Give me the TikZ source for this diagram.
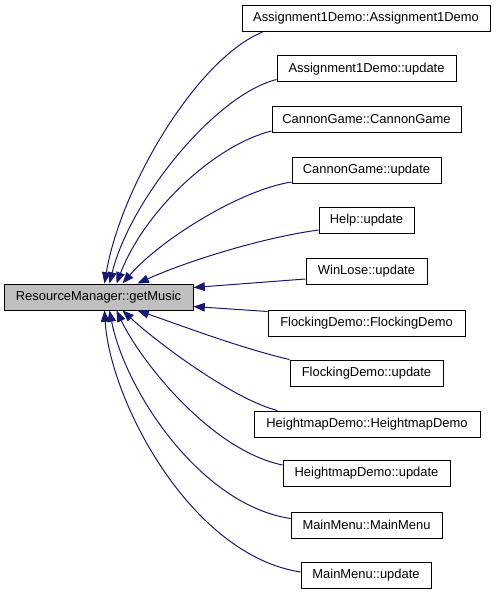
\documentclass[tikz,border=0pt]{standalone}
\usepackage{fontspec}
\setmainfont{Liberation Sans}
\usetikzlibrary{arrows.meta,calc}
\definecolor{edgeblue}{HTML}{191970}
\definecolor{maingray}{HTML}{BFBFBF}
\begin{document}
\begin{tikzpicture}[x=0.75pt,y=-0.75pt,
  fn/.style={draw=black,line width=0.75pt,fill=white,inner sep=0pt,
    minimum height=19.5pt,minimum width=#1*0.75pt,
    font=\fontsize{9.7}{11.6}\selectfont},
  mainbox/.style={fn=#1,fill=maingray},
  edge/.style={draw=edgeblue,line width=0.75pt,
    -{Triangle[length=8.5pt,width=6.5pt]}}]
\useasboundingbox (0,0) rectangle (497,595);
\node[mainbox=189] (m) at (98.5,297) {ResourceManager::getMusic};
\node[fn=248] (b1) at (366,18.5) {Assignment1Demo::Assignment1Demo};
\node[fn=179] (b2) at (366.5,69) {Assignment1Demo::update};
\node[fn=189] (b3) at (366.5,119.5) {CannonGame::CannonGame};
\node[fn=149] (b4) at (366.5,170.5) {CannonGame::update};
\node[fn=95] (b5) at (366.5,220.5) {Help::update};
\node[fn=121] (b6) at (366.5,271.5) {WinLose::update};
\node[fn=197] (b7) at (366.5,323) {FlockingDemo::FlockingDemo};
\node[fn=153] (b8) at (366.5,373) {FlockingDemo::update};
\node[fn=226] (b9) at (367,424) {HeightmapDemo::HeightmapDemo};
\node[fn=167] (b10) at (366.5,473.5) {HeightmapDemo::update};
\node[fn=151] (b11) at (366.5,525) {MainMenu::MainMenu};
\node[fn=130] (b12) at (366,575.5) {MainMenu::update};

\draw[edge] ($(b1.south west)+(21,0)$) .. controls (195,60) and (120,190) .. ($(m.north west)+(101,0)$);
\draw[edge] ($(b2.south west)+(0,-3)$) .. controls (215,95) and (130,200) .. ($(m.north west)+(106,0)$);
\draw[edge] ($(b3.south west)+(0,-2)$) .. controls (215,145) and (145,210) .. ($(m.north west)+(113,0)$);
\draw[edge] ($(b4.south west)+(0,-2)$) .. controls (240,190) and (160,240) .. ($(m.north west)+(119,0)$);
\draw[edge] ($(b5.south west)+(0,-4)$) .. controls (260,238) and (185,262) .. ($(m.north west)+(134,0)$);
\draw[edge] ($(b6.south west)+(0,-6)$) -- ($(m.north east)+(0,4)$);
\draw[edge] ($(b7.north west)+(0,2)$) -- ($(m.south east)+(0,-4)$);
\draw[edge] (b8.north west) .. controls (240,348) and (180,325) .. ($(m.south west)+(134,0)$);
\draw[edge] ($(b9.north west)+(24,0)$) .. controls (235,400) and (160,345) .. ($(m.south west)+(119,0)$);
\draw[edge] ($(b10.north west)+(0,5)$) .. controls (210,450) and (140,360) .. ($(m.south west)+(113,0)$);
\draw[edge] ($(b11.north west)+(0,7)$) .. controls (200,505) and (125,390) .. ($(m.south west)+(106,0)$);
\draw[edge] ($(b12.north west)+(0,10)$) .. controls (190,555) and (110,400) .. ($(m.south west)+(101,0)$);
\end{tikzpicture}
\end{document}
